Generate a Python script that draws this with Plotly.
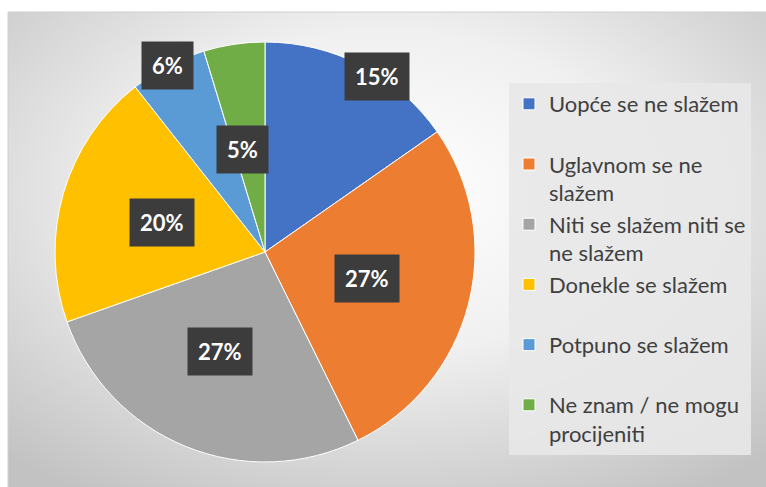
import math
import base64
import plotly.graph_objects as go

# ---- data ----
categories = [
    "Uopće se ne slažem",
    "Uglavnom se ne slažem",
    "Niti se slažem niti se ne slažem",
    "Donekle se slažem",
    "Potpuno se slažem",
    "Ne znam / ne mogu procijeniti",
]
legend_labels = [
    "Uopće se ne slažem<br> ",
    "Uglavnom se ne<br>slažem",
    "Niti se slažem niti se<br>ne slažem",
    "Donekle se slažem<br> ",
    "Potpuno se slažem<br> ",
    "Ne znam / ne mogu<br>procijeniti",
]
values = [15.3, 27.4, 26.9, 19.8, 5.9, 4.7]
colors = ["#4472C4", "#ED7D31", "#A5A5A5", "#FFC000", "#5B9BD5", "#70AD47"]

# ---- layout geometry (pixels) ----
W, H = 766, 487
CX, CY, R = 265, 252, 210          # pie centre / radius
label_radius = [0.99, 0.5, 0.52, 0.51, 1.0, 0.5]
label_angle_shift = [5, 0, 2, 0, 0, -4]

fig = go.Figure()

fig.add_trace(go.Pie(
    labels=legend_labels,
    values=values,
    sort=False,
    direction="clockwise",
    rotation=0,
    marker=dict(colors=colors, line=dict(color="white", width=1)),
    textinfo="none",
    hoverinfo="label+percent",
    domain=dict(x=[(CX - R) / W, (CX + R) / W],
                y=[(H - CY - R) / H, (H - CY + R) / H]),
))

# percentage labels in dark boxes, positioned from the data
total = sum(values)
cum = 0.0
annotations = []
for i, v in enumerate(values):
    mid = (cum + v / 2) / total * 360 + label_angle_shift[i]
    cum += v
    rr = label_radius[i] * R
    px = CX + rr * math.sin(math.radians(mid))
    py_up = (H - CY) + rr * math.cos(math.radians(mid))
    annotations.append(dict(
        x=px / W, y=py_up / H, xref="paper", yref="paper",
        text=f"<b>{round(v / total * 100):d}%</b>",
        showarrow=False,
        font=dict(family="Lato", size=22, color="white"),
        bgcolor="#3c3c3c",
        borderpad=10,
        xanchor="center", yanchor="middle",
    ))

# radial-gradient background (SVG data URI)
svg = (
    '<svg xmlns="http://www.w3.org/2000/svg" width="758" height="475">'
    '<defs><radialGradient id="g" cx="50%" cy="38%" r="75%">'
    '<stop offset="0%" stop-color="#ffffff"/>'
    '<stop offset="45%" stop-color="#f0f0f0"/>'
    '<stop offset="100%" stop-color="#c2c2c2"/>'
    '</radialGradient></defs>'
    '<rect width="758" height="475" fill="url(#g)"/></svg>'
)
src = "data:image/svg+xml;base64," + base64.b64encode(svg.encode()).decode()

fig.update_layout(
    width=W, height=H,
    margin=dict(l=0, r=0, t=0, b=0),
    paper_bgcolor="white",
    plot_bgcolor="white",
    images=[dict(source=src, xref="paper", yref="paper",
                 x=8 / W, y=1 - 12 / H, sizex=758 / W, sizey=475 / H,
                 xanchor="left", yanchor="top", sizing="stretch",
                 layer="below")],
    shapes=[dict(type="rect", xref="paper", yref="paper",
                 x0=8 / W, x1=1.01, y0=-0.01, y1=1 - 12 / H,
                 line=dict(color="#d0d0d0", width=1))],
    annotations=annotations,
    showlegend=True,
    legend=dict(
        x=509 / W, y=1 - 83 / H, xanchor="left", yanchor="top",
        bgcolor="rgba(232,232,232,0.9)",
        font=dict(family="Lato", size=22, color="#404040"),
        valign="top",
        itemwidth=30,
        tracegroupgap=0,
    ),
)

fig.write_html("out.html", config={"displayModeBar": False})

# remove the default page margin so the figure fills the window exactly
with open("out.html", encoding="utf-8") as f:
    html = f.read()
html = html.replace("<head>", "<head><style>html,body{margin:0;padding:0;}</style>", 1)
with open("out.html", "w", encoding="utf-8") as f:
    f.write(html)
